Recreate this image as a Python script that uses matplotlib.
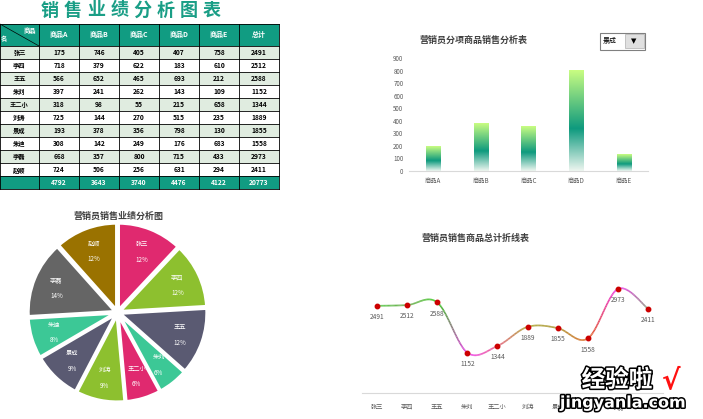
import numpy as np
import matplotlib
matplotlib.use("Agg")
import matplotlib.pyplot as plt
from matplotlib.colors import LinearSegmentedColormap, to_rgb
from matplotlib.collections import LineCollection
from matplotlib.patches import Rectangle
import matplotlib.patheffects as pe

plt.rcParams['font.family'] = ['Noto Sans CJK SC', 'DejaVu Sans']

# ---- data ----
names = ['张三', '李四', '王五', '朱刘', '王二小', '刘涛', '景成', '朱迪', '李磊', '赵顺']
products = ['商品A', '商品B', '商品C', '商品D', '商品E']
sales_a = [175, 718, 566, 397, 318, 725, 193, 308, 668, 724]
sales_b = [746, 379, 652, 241, 98, 144, 378, 142, 357, 506]
sales_c = [405, 622, 465, 262, 55, 270, 356, 249, 800, 256]
sales_d = [407, 183, 693, 143, 215, 515, 798, 176, 715, 631]
sales_e = [758, 610, 212, 109, 658, 235, 130, 683, 433, 294]
selected = '景成'

cols = [sales_a, sales_b, sales_c, sales_d, sales_e]
totals = [sum(r) for r in zip(*cols)]
col_sums = [sum(c) for c in cols] + [sum(totals)]

W, H = 703, 419
fig = plt.figure(figsize=(W / 100, H / 100), dpi=100)
fig.patch.set_facecolor('white')


def px_axes(x0, y0, x1, y1):
    a = fig.add_axes([x0 / W, 1 - y1 / H, (x1 - x0) / W, (y1 - y0) / H])
    a.set_facecolor('none')
    return a


TEAL = '#119c82'
LIGHT = '#e0ece0'

# ---- table (drawn in pixel coords) ----
bg = px_axes(0, 0, W, H)
bg.set_xlim(0, W)
bg.set_ylim(H, 0)
bg.axis('off')

title = '销售业绩分析图表'
for i, ch in enumerate(title):
    bg.text(50 + i * 23.1, 10, ch, fontsize=13, fontweight='bold', color='#1a9e86',
            ha='center', va='center')

edges = [0, 39, 79, 119, 159, 199, 239, 279]
top, head_h, row_h = 24, 22, 13
bg.add_patch(Rectangle((0, top), 279, head_h, fc=TEAL, ec='none'))
bg.plot([0, 39], [top, top + head_h], color='black', lw=0.5)
bg.text(30, top + 6, '商品', fontsize=4.5, color='white', fontweight='bold', ha='center', va='center')
bg.text(4, top + 15, '名', fontsize=4.5, color='white', fontweight='bold', ha='center', va='center')
for j, lab in enumerate(products + ['总计']):
    cx = (edges[j + 1] + edges[j + 2]) / 2
    bg.text(cx, top + head_h / 2, lab, fontsize=5, color='white', fontweight='bold',
            ha='center', va='center')

y = top + head_h
for i, nm in enumerate(names):
    fc = LIGHT if i % 2 == 0 else 'white'
    bg.add_patch(Rectangle((0, y), 279, row_h, fc=fc, ec='none'))
    vals = [c[i] for c in cols] + [totals[i]]
    bg.text(19.5, y + row_h / 2, nm, fontsize=4.5, fontweight='bold', ha='center', va='center')
    for j, v in enumerate(vals):
        cx = (edges[j + 1] + edges[j + 2]) / 2
        bg.text(cx, y + row_h / 2, str(v), fontsize=4.8, fontweight='bold', ha='center', va='center')
    y += row_h
bg.add_patch(Rectangle((0, y), 279, row_h, fc=TEAL, ec='none'))
for j, v in enumerate(col_sums):
    cx = (edges[j + 1] + edges[j + 2]) / 2
    bg.text(cx, y + row_h / 2, str(v), fontsize=4.8, fontweight='bold', color='white',
            ha='center', va='center')
bottom = y + row_h
for yy in [top] + [top + head_h + k * row_h for k in range(len(names) + 2)]:
    bg.plot([0, 279], [yy, yy], color='black', lw=0.6)
for xx in edges:
    bg.plot([xx, xx], [top, bottom], color='black', lw=0.6)

# ---- bar chart ----
bg.text(420, 40, '营销员分项商品销售分析表', fontsize=6.5, fontweight='bold', color='#404040',
        ha='left', va='center')
bg.add_patch(Rectangle((600, 33), 45, 17, fc='white', ec='#808080', lw=0.8))
bg.add_patch(Rectangle((625, 34.5), 18.5, 14, fc='#e0e0e0', ec='#b0b0b0', lw=0.5))
bg.text(603, 41.5, selected, fontsize=5, ha='left', va='center', color='black')
bg.text(634, 41.5, '▼', fontsize=5, ha='center', va='center', color='black', family='DejaVu Sans')

axb = px_axes(409, 58, 648, 171)
k = names.index(selected)
bar_vals = [c[k] for c in cols]
grad_cmap = LinearSegmentedColormap.from_list(
    'g', [(0, '#eef6f0'), (0.42, '#0e9a7e'), (1, '#c9fd82')])
grad = np.linspace(0, 1, 256).reshape(-1, 1)
bw = 0.3
for i, v in enumerate(bar_vals):
    axb.imshow(grad, extent=[i - bw / 2, i + bw / 2, 0, v], aspect='auto',
               cmap=grad_cmap, origin='lower', zorder=2)
axb.set_xlim(-0.5, len(products) - 0.5)
axb.set_ylim(0, 900)
axb.set_xticks(range(len(products)))
axb.set_xticklabels(products)
axb.set_yticks(range(0, 901, 100))
axb.tick_params(length=0, labelsize=4.5, labelcolor='#595959', pad=4)
for s in ['top', 'right', 'left']:
    axb.spines[s].set_visible(False)
axb.spines['bottom'].set_color('#d9d9d9')

# ---- pie chart ----
bg.text(118, 216, '营销员销售业绩分析图', fontsize=6.5, fontweight='bold', color='#404040',
        ha='center', va='center')
axp = px_axes(28, 223, 207, 402)
pie_colors = ['#e0296f', '#8dc02f', '#5a5a72', '#3cc896', '#e0296f', '#8dc02f',
              '#5a5a72', '#3cc896', '#656565', '#9a7200']
wedges, _ = axp.pie(totals, colors=pie_colors, startangle=90, counterclock=False,
                    explode=[0.03] * len(totals),
                    wedgeprops=dict(edgecolor='white', linewidth=2.2))
total = sum(totals)
for w, nm, v in zip(wedges, names, totals):
    ang = np.deg2rad((w.theta1 + w.theta2) / 2)
    r = 0.76
    x, yv = r * np.cos(ang), r * np.sin(ang)
    axp.text(x, yv + 0.08, nm, fontsize=4.5, color='white', ha='center', va='center')
    axp.text(x, yv - 0.1, f'{v / total * 100:.0f}%', fontsize=4.5, color='white',
             ha='center', va='center')
axp.set_aspect('equal')
axp.set_xlim(-1.03, 1.03)
axp.set_ylim(-1.03, 1.03)

# ---- line chart ----
bg.text(475, 238, '营销员销售商品总计折线表', fontsize=6.5, fontweight='bold', color='#404040',
        ha='center', va='center')
axl = px_axes(362, 253, 663, 393)
xs = np.arange(len(names))
ys = np.array(totals, dtype=float)
pts = np.column_stack([xs, ys])
ext = np.vstack([pts[0], pts, pts[-1]])
curve = []
seg_t = []
for i in range(len(pts) - 1):
    p0, p1, p2, p3 = ext[i], ext[i + 1], ext[i + 2], ext[i + 3]
    c1 = p1 + (p2 - p0) / 6
    c2 = p2 - (p3 - p1) / 6
    t = np.linspace(0, 1, 40)[:, None]
    b = (1 - t) ** 3 * p1 + 3 * (1 - t) ** 2 * t * c1 + 3 * (1 - t) * t ** 2 * c2 + t ** 3 * p2
    curve.append(b if i == 0 else b[1:])
    seg_t.append((i + t[:, 0]) if i == 0 else (i + t[1:, 0]))
curve = np.vstack(curve)
seg_t = np.concatenate(seg_t)
anchor_cols = ['#40c830', '#70a850', '#30c818', '#f030f0', '#e86080', '#a8a028',
               '#a89028', '#e06018', '#f030f0', '#80a070']
anchor_rgb = np.array([to_rgb(c) for c in anchor_cols])
cols_rgb = np.column_stack([np.interp(seg_t, xs, anchor_rgb[:, c]) for c in range(3)])
segs = np.stack([curve[:-1], curve[1:]], axis=1)
lc = LineCollection(segs, colors=cols_rgb[:-1], linewidth=1.2, zorder=2)
axl.add_collection(lc)
axl.plot(xs, ys, 'o', color='#cc0000', markersize=3.2, zorder=3)
for xv, v in zip(xs, totals):
    axl.annotate(str(v), (xv, v), xytext=(0, -8), textcoords='offset points',
                 fontsize=4.8, color='#595959', ha='center', va='center')
axl.set_xlim(-0.5, len(names) - 0.5)
axl.set_ylim(0, 4000)
axl.set_xticks(xs)
axl.set_xticklabels(names)
axl.set_yticks([])
axl.tick_params(length=0, labelsize=4.5, labelcolor='#595959', pad=7)
for s in ['top', 'right', 'left']:
    axl.spines[s].set_visible(False)
axl.spines['bottom'].set_color('#d9d9d9')

# ---- watermark ----
wm = px_axes(0, 0, W, H)
wm.set_xlim(0, W)
wm.set_ylim(H, 0)
wm.axis('off')
stroke = [pe.withStroke(linewidth=2.2, foreground='black')]
wm.text(617, 380, '经验啦', fontsize=17, fontweight='bold', color='white',
        ha='center', va='center', path_effects=stroke)
wm.text(671, 381, '√', fontsize=20, fontweight='bold', color='#ff1010',
        ha='center', va='center', family='DejaVu Sans')
wm.text(623, 403, 'jingyanla.com', fontsize=11.5, fontweight='bold', color='white',
        ha='center', va='center', family='DejaVu Sans', path_effects=stroke)

fig.savefig('out.png', dpi=100)
